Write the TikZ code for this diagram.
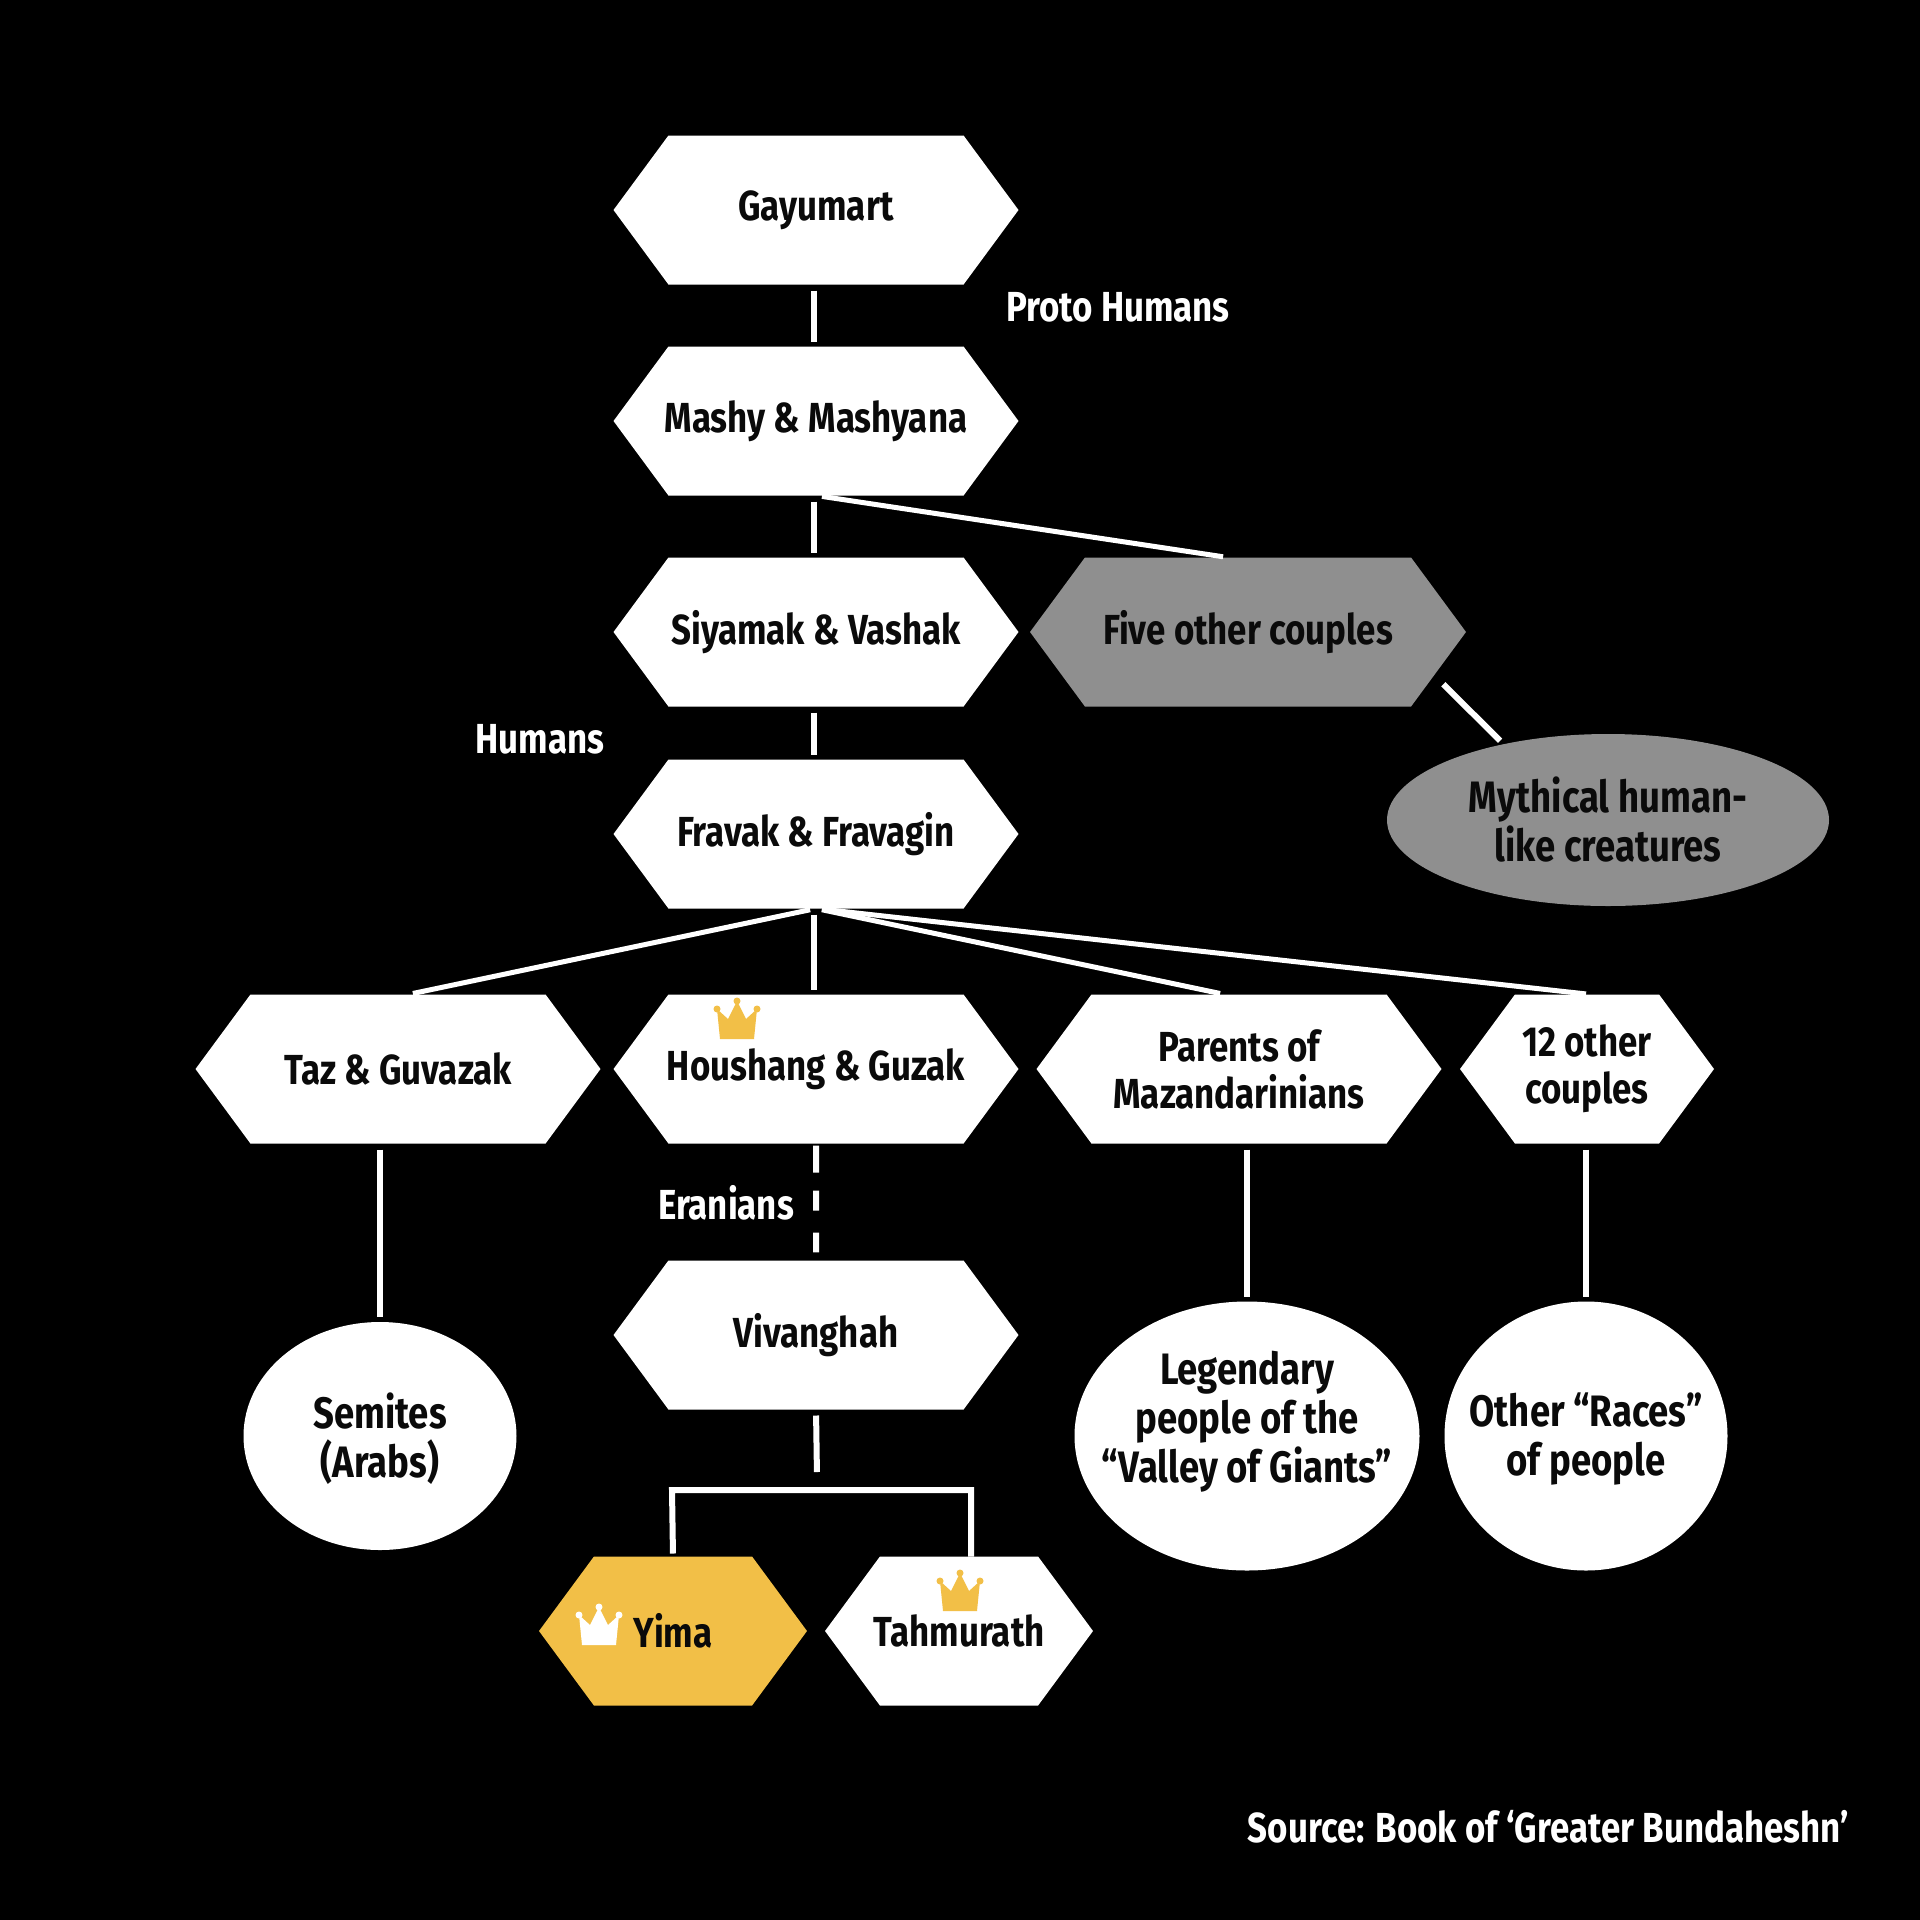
\documentclass[tikz,border=0pt]{standalone}
\usepackage{fontspec}
\setmainfont[FakeStretch=0.83]{Fira Sans}
\usepackage{tikz}
\usetikzlibrary{calc,shapes.geometric,shapes.symbols}
\definecolor{gold}{HTML}{F2BF47}
\definecolor{ash}{HTML}{8F8F8F}
\definecolor{ink}{HTML}{0A0A0A}

\begin{document}
\begin{tikzpicture}[x=1pt,y=-1pt,
  hexbox/.style={signal,signal to=east and west,signal from=nowhere,signal pointer angle=107.2,
    fill=white,text=ink,inner xsep=-30pt,inner ysep=0pt,outer sep=0pt,minimum width=405pt,minimum height=149pt,
    align=center,font=\fontsize{42}{47}\selectfont\bfseries},
  hexsmall/.style={hexbox,minimum width=268pt},
  oval/.style={ellipse,fill=white,inner sep=0pt,outer sep=0pt},
  ovaltext/.style={text=ink,align=center,inner sep=0pt,font=\fontsize{44}{49}\selectfont\bfseries},
  side/.style={text=white,inner sep=0pt,font=\fontsize{42}{47}\selectfont\bfseries},
  link/.style={draw=white,line width=6pt,shorten <=6pt,shorten >=5pt},
  crown/.pic={
    \fill[pic actions] (-17,41)--(17,41)--(20,11)--(9,21)--(0,3)--(-9,21)--(-20,11)--cycle;
    \fill[pic actions] (-20,11) circle (3.5) (20,11) circle (3.5) (0,3) circle (3.5);}]
  \fill[black] (0,0) rectangle (1920,1920);

  \node[hexbox] (gayumart) at (816,210) {Gayumart};
  \node[hexbox] (mashy) at (816,421) {Mashy \& Mashyana};
  \node[hexbox] (siyamak) at (816,632) {Siyamak \& Vashak};
  \node[hexbox] (fravak) at (816,834) {Fravak \& Fravagin};
  \node[hexbox,fill=ash,minimum width=436pt] (five) at (1248,632) {Five other couples};
  \node[hexbox] (taz) at (398,1069) {Taz \& Guvazak};
  \node[hexbox] (houshang) at (816,1069) {Houshang \& Guzak};
  \node[hexbox] (parents) at (1239,1069) {Parents of\\Mazandarinians};
  \node[hexsmall,minimum width=254pt] (twelve) at (1587,1069) {12 other\\couples};
  \node[hexbox] (vivanghah) at (816,1335) {Vivanghah};
  \node[hexsmall,fill=gold] (yima) at (673,1631) {Yima};
  \node[hexsmall] (tahmurath) at (959,1631) {Tahmurath};

  \node[oval,fill=ash,minimum width=442pt,minimum height=172pt,
    label={[ovaltext]center:Mythical human-\\like creatures}] (mythical) at (1608,820) {};
  \node[oval,minimum width=273pt,minimum height=228pt,
    label={[ovaltext,yshift=-3pt]center:Semites\\(Arabs)}] (semites) at (380,1436) {};
  \node[oval,minimum width=345pt,minimum height=269pt,
    label={[ovaltext,yshift=14pt]center:Legendary\\people of the\\“Valley of Giants”}] (legendary) at (1247,1436) {};
  \node[oval,minimum width=283pt,minimum height=269pt,
    label={[ovaltext,yshift=-3pt]center:Other “Races”\\of people}] (races) at (1586,1436) {};

  \node[side] (proto) at (1118,307) {Proto Humans};
  \node[side] (humans) at (540,739) {Humans};
  \node[side] (eranians) at (726,1203) {Eranians};
  \node[side,anchor=east] (source) at (1849,1827) {Source: Book of ‘Greater Bundaheshn’};

  \foreach \a/\b in {gayumart/mashy,mashy/siyamak,siyamak/fravak,fravak/houshang} {
    \draw[link] ([xshift=-2pt]\a.south)--([xshift=-2pt]\b.north);}
  \foreach \a/\b in {taz/semites,parents/legendary,twelve/races} {\draw[link] (\b.north|-\a.south)--(\b.north);}
  \foreach \a/\b/\d in {mashy/five/-20,fravak/taz/10,fravak/parents/-14,fravak/twelve/4} {
    \draw[link,line width=5pt] (\a.south)--([xshift=\d pt]\b.north);}
  \coordinate (fiveout) at ($(five.center)+(191,48)$);
  \draw[link] (fiveout)--(mythical.144);
  \draw[link,shorten <=2pt,shorten >=8pt,dash pattern=on 27pt off 18pt on 20pt off 22pt on 20pt]
    (houshang)--(vivanghah);

  \coordinate (forktop) at (817,1477);
  \coordinate (forkl) at (672,1490);
  \coordinate (forkr) at (971,1490);
  \draw[link] (vivanghah.south)--(forktop);
  \draw[link,shorten <=3pt,shorten >=0pt] (yima.north)--(forkl)--(forkr)--(tahmurath.north-|forkr);

  \pic[fill=gold] (crownh) at (737,998) {crown};
  \pic[fill=gold] (crownt) at (960,1570) {crown};
  \pic[fill=white] (crowny) at (599,1604) {crown};
\end{tikzpicture}
\end{document}
